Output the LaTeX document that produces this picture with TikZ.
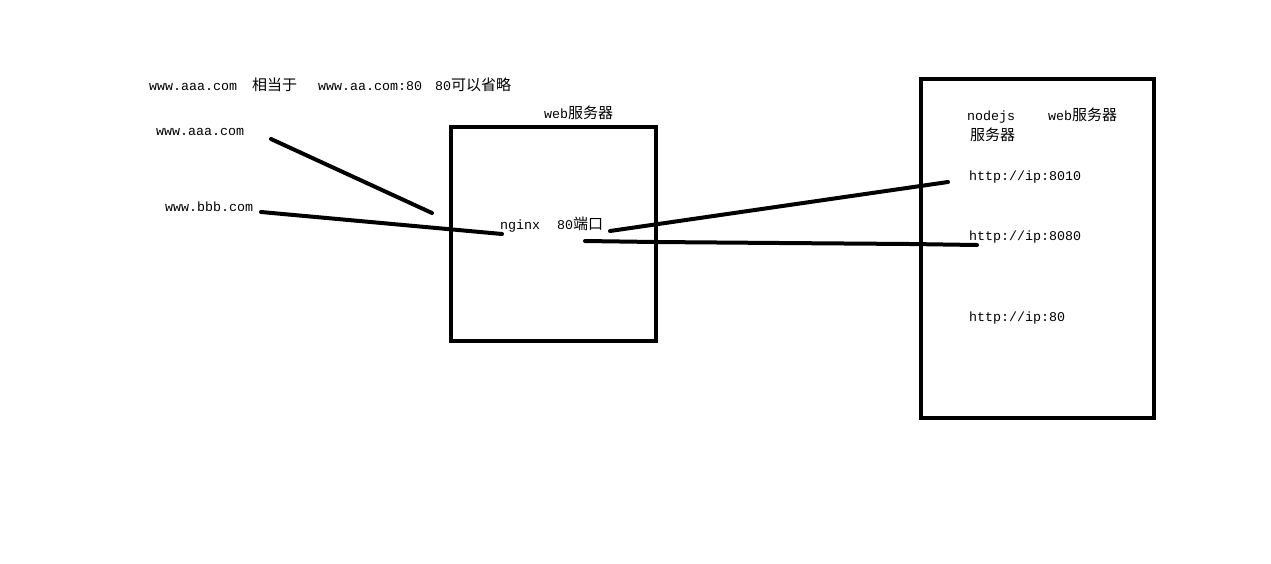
\documentclass[tikz,border=0pt]{standalone}
\usepackage{fontspec}
\setmonofont{Liberation Mono}
\newfontfamily\cjk{Noto Sans CJK SC}
\newcommand{\zh}[1]{{\cjk\fontsize{15}{16}\selectfont #1}}
\tikzset{
	note/.style={
		anchor=west,
		inner sep=0pt,
		text height=9pt,
		text depth=2pt,
		font=\ttfamily\fontsize{13.33}{14}\selectfont
	},
	server box/.style={
		draw,
		line width=4pt
	},
	pen line/.style={
		line width=4pt,
		line cap=round
	},
}
\begin{document}
\begin{tikzpicture}[x=1pt, y=-1pt]

\useasboundingbox (0,0) rectangle (1271,563);

% servers
\node [server box, minimum width=205pt, minimum height=214pt] (proxy) at (553.5,234) {};
\node [server box, minimum width=233pt, minimum height=339pt] (nodejs) at (1037.5,248.5) {};

% top remark
\node [note] (remark-a) at (149,87) {www.aaa.com};
\node [note] (remark-b) at (252,87) {\zh{相当于}};
\node [note] (remark-c) at (318,87) {www.aa.com:80};
\node [note] (remark-d) at (435,87) {80\zh{可以省略}};

% domains
\node [note] (site-aaa) at (156,132) {www.aaa.com};
\node [note] (site-bbb) at (165,208) {www.bbb.com};

% proxy box
\node [note] (proxy-title) at (544,115) {web\zh{服务器}};
\node [note] (nginx) at (500,226) {nginx};
\node [note] (port) at (557,226) {80\zh{端口}};

% nodejs box
\node [note] (nodejs-name) at (967,117) {nodejs};
\node [note] (nodejs-title) at (1048,117) {web\zh{服务器}};
\node [note] (nodejs-sub) at (970,137) {\zh{服务器}};
\foreach \p/\y in {8010/177, 8080/237, 80/318}
	\node [note] (url-\p) at (969,\y) {http://ip:\p};

% pen strokes
\coordinate (aaa-tip) at (271,139);
\coordinate (aaa-end) at (432,213);
\coordinate (bbb-tip) at (261,212);
\coordinate (nginx-in) at (502,234);
\coordinate (port-out) at (610,231);
\coordinate (to-8010) at (948,182);
\coordinate (port-low) at (585,241);
\coordinate (to-8080) at (977,245);

\draw [pen line] (aaa-tip) -- (aaa-end);
\draw [pen line] (bbb-tip) -- (nginx-in);
\draw [pen line] (port-out) -- (to-8010);
\draw [pen line] (port-low) -- (655,242) -- (780,243) -- (910,244) -- (to-8080);

\end{tikzpicture}
\end{document}
